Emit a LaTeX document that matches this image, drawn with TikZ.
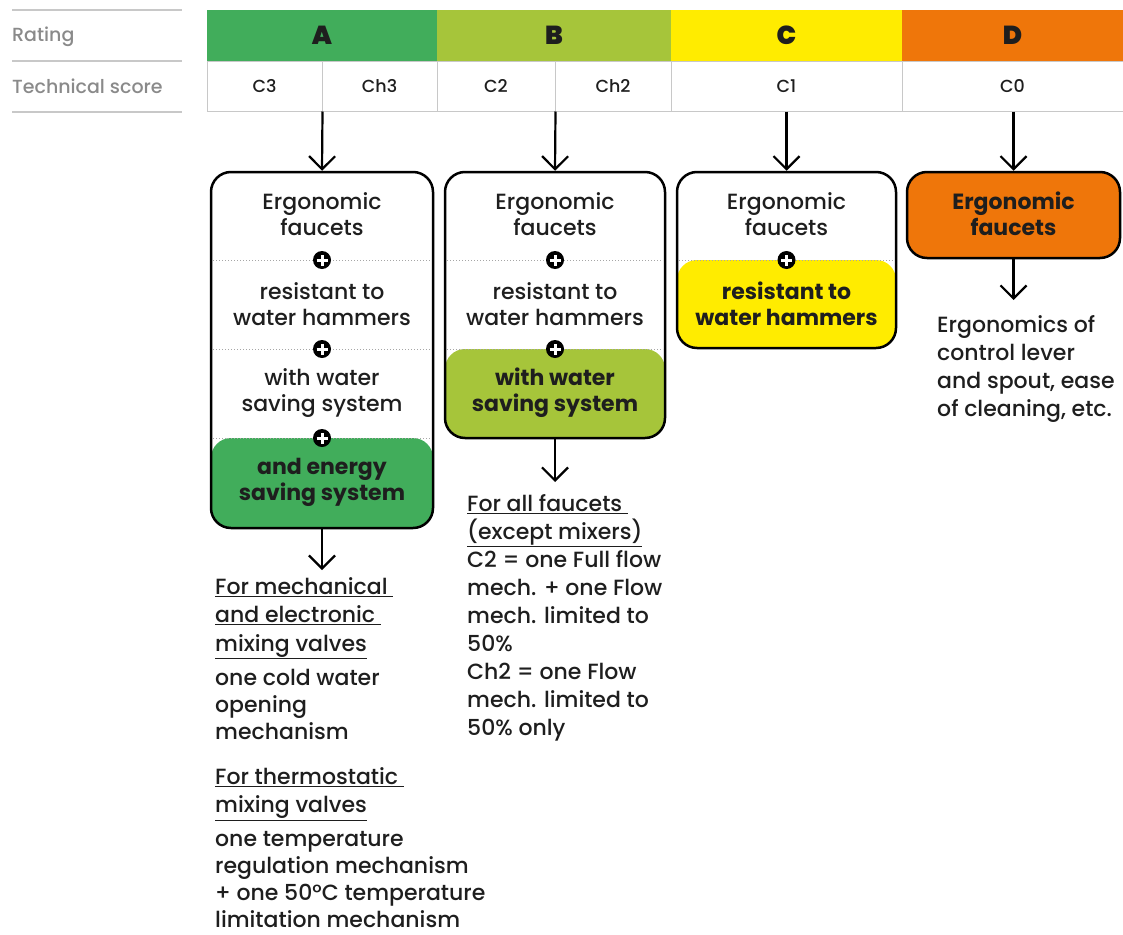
\documentclass[tikz,border=0pt]{standalone}
\usepackage{fontspec}
\setmainfont{Poppins}[UprightFont=* Medium, BoldFont=* Bold]
\newfontfamily\heavyfont{Poppins Black}
\usetikzlibrary{arrows.meta,calc}
\definecolor{colA}{HTML}{41AD5B}
\definecolor{colB}{HTML}{A6C53A}
\definecolor{colC}{HTML}{FFEC00}
\definecolor{colD}{HTML}{EF760A}
\definecolor{txt}{HTML}{1E1E1E}
\definecolor{lbl}{HTML}{8A8A8A}
\definecolor{grid}{HTML}{C8C8C8}
\begin{document}
\begin{tikzpicture}[x=1pt,y=-1pt,
  every node/.style={text=txt},
  ratecell/.style={inner sep=0pt, minimum height=51pt, font=\fontsize{26}{28}\heavyfont},
  techcell/.style={draw=grid, line width=1pt, inner sep=0pt, minimum height=50pt, font=\fontsize{17.5}{20}\selectfont},
  leftlbl/.style={anchor=west, inner sep=0pt, text=lbl, font=\fontsize{19}{22}\selectfont},
  sepline/.style={draw=grid, line width=1.3pt},
  box/.style={draw=black, line width=2.5pt, rounded corners=20pt, inner sep=0pt},
  boxtxt/.style={align=center, inner sep=0pt, font=\fontsize{22}{26}\selectfont},
  boxbold/.style={boxtxt, font=\fontsize{22}{26}\selectfont\bfseries},
  dotline/.style={draw=gray!70, line width=1pt, dotted},
  plus/.style={circle, fill=black, minimum size=18pt, inner sep=0pt,
    path picture={\draw[white, line width=3pt]
      ([xshift=-5.5pt]path picture bounding box.center) -- ([xshift=5.5pt]path picture bounding box.center)
      ([yshift=-5.5pt]path picture bounding box.center) -- ([yshift=5.5pt]path picture bounding box.center);}},
  arr/.style={draw=black, line width=2.2pt, -{Straight Barb[length=13pt,width=26pt,line width=2.2pt]}},
  note/.style={anchor=north west, align=left, inner sep=0pt, font=\fontsize{22}{27}\selectfont}
]
\useasboundingbox (0,0) rectangle (1123,934);

% left labels
\draw[sepline] (12,10) -- (182,10);
\draw[sepline] (12,61) -- (182,61);
\draw[sepline] (12,112) -- (182,112);
\node[leftlbl] (lrating) at (12,37) {Rating};
\node[leftlbl] (ltech) at (12,86.5) {Technical score};

% rating row
\node[ratecell, fill=colA, minimum width=230pt] (rA) at (322,35.5) {A};
\node[ratecell, fill=colB, minimum width=234pt] (rB) at (554,35.5) {B};
\node[ratecell, fill=colC, minimum width=231pt] (rC) at (786.5,35.5) {C};
\node[ratecell, fill=colD, minimum width=221pt] (rD) at (1012.5,35.5) {D};

% technical row
\node[techcell, minimum width=115pt] (c3) at (264.5,86) {C3};
\node[techcell, minimum width=115pt] (ch3) at (379.5,86) {Ch3};
\node[techcell, minimum width=118pt] (c2) at (496,86) {C2};
\node[techcell, minimum width=116pt] (ch2) at (613,86) {Ch2};
\node[techcell, minimum width=231pt] (c1) at (786.5,86) {C1};
\node[techcell, minimum width=221pt] (c0) at (1012.5,86) {C0};

% box A
\node[box, minimum width=222pt, minimum height=356pt,
  path picture={\fill[colA] ([yshift=90pt]path picture bounding box.south west) rectangle (path picture bounding box.south east);}]
  (boxA) at (322,350) {};
\draw[dotline] (213,260) -- (431,260);
\draw[dotline] (213,349) -- (431,349);
\draw[dotline] (213,438) -- (431,438);
\node[boxtxt] (a1) at (322,214) {Ergonomic\\faucets};
\node[boxtxt] (a2) at (322,304) {resistant to\\water hammers};
\node[boxtxt] (a3) at (322,393) {with water\\saving system};
\node[boxbold] (a4) at (322,482) {and energy\\saving system};
\node[plus] (pa1) at (322,260) {};
\node[plus] (pa2) at (322,349) {};
\node[plus] (pa3) at (322,438) {};

% box B
\node[box, minimum width=220pt, minimum height=266pt,
  path picture={\fill[colB] ([yshift=89pt]path picture bounding box.south west) rectangle (path picture bounding box.south east);}]
  (boxB) at (555,305) {};
\draw[dotline] (447,260) -- (663,260);
\draw[dotline] (447,349) -- (663,349);
\node[boxtxt] (b1) at (555,214) {Ergonomic\\faucets};
\node[boxtxt] (b2) at (555,304) {resistant to\\water hammers};
\node[boxbold] (b3) at (555,393) {with water\\saving system};
\node[plus] (pb1) at (555,260) {};
\node[plus] (pb2) at (555,349) {};

% box C
\node[box, minimum width=219pt, minimum height=176pt,
  path picture={\fill[colC] ([yshift=88pt]path picture bounding box.south west) rectangle (path picture bounding box.south east);}]
  (boxC) at (786.5,260) {};
\draw[dotline] (679,260) -- (894,260);
\node[boxtxt] (cc1) at (786.5,214) {Ergonomic\\faucets};
\node[boxbold] (cc2) at (786.5,304) {resistant to\\water hammers};
\node[plus] (pc1) at (786.5,260) {};

% box D
\node[box, fill=colD, minimum width=213pt, minimum height=86pt] (boxD) at (1013.5,215) {};
\node[boxbold] (d1) at (1013.5,214) {Ergonomic\\faucets};

% arrows from table to boxes
\draw[arr] (c3.south east) -- (boxA.north);
\draw[arr] (c2.south east) -- (boxB.north);
\draw[arr] (c1.south) -- (boxC.north);
\draw[arr] (boxD.north |- c0.south) -- (boxD.north);

% notes
\node[note] (noteA) at (215,577) {\underline{For mechanical }\\[1.5pt]\underline{and electronic }\\[1.5pt]\underline{mixing valves}\\[7pt]one cold water\\opening\\mechanism\\[18pt]\underline{For thermostatic }\\[1.5pt]\underline{mixing valves}\\[7pt]one temperature\\regulation mechanism\\+ one 50\textdegree C temperature\\limitation mechanism};
\node[note, font=\fontsize{22}{28}\selectfont] (noteB) at (467,494) {\underline{For all faucets }\\\underline{(except mixers)}\\C2 = one Full flow\\mech. + one Flow\\mech. limited to\\50\%\\Ch2 = one Flow\\mech. limited to\\50\% only};
\node[note, font=\fontsize{22}{28}\selectfont] (noteD) at (937,315) {Ergonomics of\\control lever\\and spout, ease\\of cleaning, etc.};

\coordinate (endA) at (322,570);
\coordinate (endB) at (555,482);
\coordinate (endD) at (1013.5,300);
\draw[arr] (boxA.south) -- (endA);
\draw[arr] (boxB.south) -- (endB);
\draw[arr] (boxD.south) -- (endD);
\end{tikzpicture}
\end{document}
